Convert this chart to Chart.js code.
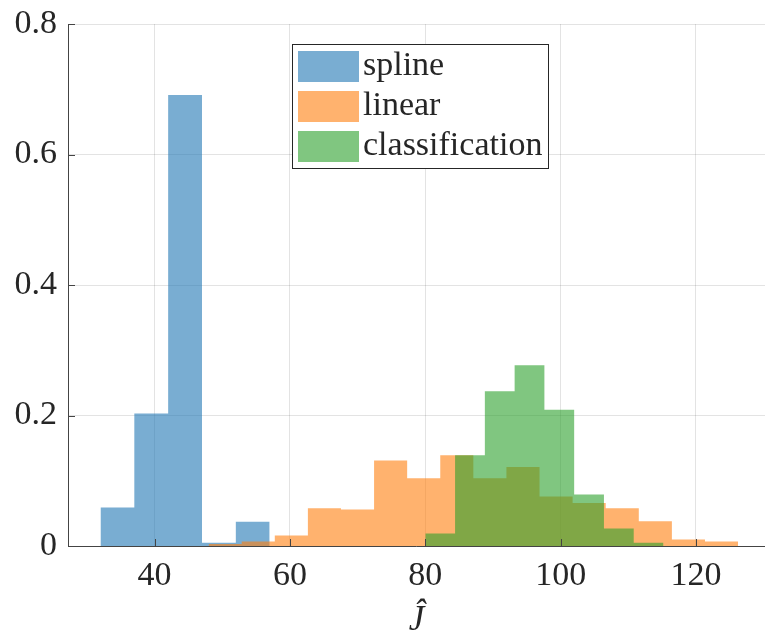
<!DOCTYPE html>
<html lang="en">
<head>
<meta charset="utf-8">
<title>Histogram of J hat</title>
<script src="https://cdn.jsdelivr.net/npm/chart.js@4.4.0/dist/chart.umd.min.js"></script>
<style>
  html, body { margin: 0; padding: 0; background: #fff; }
  #wrap { width: 765px; height: 642px; }
</style>
</head>
<body>
<div id="wrap"><canvas id="hist"></canvas></div>
<script>
const seriesNames = ['spline', 'linear', 'classification'];

// bin edges + normalised heights (each series has its own bin width)
const splineEdges = [32, 37, 42, 47, 52, 57];
const splineHeights = [0.059, 0.203, 0.691, 0.005, 0.037];

const linearEdges = [47.98, 52.87, 57.76, 62.65, 67.54, 72.43, 77.32, 82.21, 87.10, 91.99,
                     96.88, 101.77, 106.66, 111.55, 116.44, 121.33, 126.22];
const linearHeights = [0.003, 0.007, 0.016, 0.058, 0.056, 0.131, 0.104, 0.139, 0.104, 0.121,
                       0.076, 0.066, 0.058, 0.038, 0.010, 0.007];

const classEdges = [80.0, 84.4, 88.8, 93.2, 97.6, 102.0, 106.4, 110.8, 115.2];
const classHeights = [0.019, 0.139, 0.237, 0.277, 0.209, 0.079, 0.027, 0.005];

const xTicks = [40, 60, 80, 100, 120];
const yTicks = [0, 0.2, 0.4, 0.6, 0.8];

const colors = ['rgba(31,119,180,0.6)', 'rgba(255,127,14,0.6)', 'rgba(44,160,44,0.6)'];
const fontFamily = '"Liberation Serif", "DejaVu Serif", serif';
const textColor = '#262626';

// one point per left edge, plus a closing point at the last edge
function stepPoints(edges, heights) {
    const pts = heights.map((h, i) => ({x: edges[i], y: h}));
    pts.push({x: edges[edges.length - 1], y: 0});
    return pts;
}

function histDataset(i, edges, heights) {
    return {
        label: seriesNames[i],
        data: stepPoints(edges, heights),
        stepped: 'before',
        fill: 'origin',
        backgroundColor: colors[i],
        borderColor: 'transparent',
        borderWidth: 0,
        pointRadius: 0,
        order: 2 - i
    };
}

// MATLAB style: axis lines and inward ticks on top of the bars
const axesOnTop = {
    id: 'axesOnTop',
    afterDatasetsDraw(chart) {
        const {ctx, chartArea: a, scales: {x, y}} = chart;
        ctx.save();
        ctx.strokeStyle = '#444';
        ctx.lineWidth = 1;
        ctx.beginPath();
        ctx.moveTo(a.left + 0.5, a.top);
        ctx.lineTo(a.left + 0.5, a.bottom + 0.5);
        ctx.lineTo(a.right, a.bottom + 0.5);
        xTicks.forEach(v => {
            const px = Math.round(x.getPixelForValue(v)) + 0.5;
            ctx.moveTo(px, a.bottom);
            ctx.lineTo(px, a.bottom - 7);
        });
        yTicks.forEach(v => {
            const py = Math.round(y.getPixelForValue(v)) + 0.5;
            ctx.moveTo(a.left, py);
            ctx.lineTo(a.left + 7, py);
        });
        ctx.stroke();
        ctx.restore();
    }
};

const boxLegend = {
    id: 'boxLegend',
    afterDraw(chart) {
        const ctx = chart.ctx;
        const bx = 292, by = 44, bw = 256, bh = 124;
        ctx.save();
        ctx.fillStyle = '#fff';
        ctx.fillRect(bx, by, bw, bh);
        ctx.strokeStyle = '#262626';
        ctx.lineWidth = 1;
        ctx.strokeRect(bx + 0.5, by + 0.5, bw, bh);
        ctx.font = '34px ' + fontFamily;
        ctx.textBaseline = 'alphabetic';
        chart.data.datasets.forEach((ds, i) => {
            const top = by + 7 + i * 40;
            ctx.fillStyle = ds.backgroundColor;
            ctx.fillRect(bx + 6, top, 61, 31);
            ctx.fillStyle = textColor;
            ctx.fillText(ds.label, bx + 71, top + 24);
        });
        ctx.restore();
    }
};

new Chart('hist', {
    type: 'line',
    data: {
        datasets: [
            histDataset(0, splineEdges, splineHeights),
            histDataset(1, linearEdges, linearHeights),
            histDataset(2, classEdges, classHeights)
        ]
    },
    options: {
        responsive: true,
        maintainAspectRatio: false,
        animation: false,
        layout: {padding: {top: 24, right: 0, bottom: 0, left: 0}},
        plugins: {legend: {display: false}, tooltip: {enabled: false}},
        scales: {
            x: {
                type: 'linear',
                min: 27.2,
                max: 130.2,
                afterBuildTicks: s => { s.ticks = xTicks.map(v => ({value: v})); },
                afterFit: s => { s.height = 96; s.paddingLeft = 0; s.paddingRight = 0; },
                grid: {color: 'rgba(0,0,0,0.11)', drawTicks: false},
                border: {display: false},
                ticks: {padding: 10, color: textColor, font: {family: fontFamily, size: 34}},
                title: {
                    display: true,
                    text: 'Ĵ',
                    color: textColor,
                    padding: {top: 0, bottom: 0},
                    font: {family: fontFamily, size: 35, style: 'italic'}
                }
            },
            y: {
                min: 0,
                max: 0.8,
                afterBuildTicks: s => { s.ticks = yTicks.map(v => ({value: v})); },
                afterFit: s => { s.width = 68; s.paddingTop = 0; s.paddingBottom = 0; },
                grid: {color: 'rgba(0,0,0,0.11)', drawTicks: false},
                border: {display: false},
                ticks: {
                    padding: 11,
                    color: textColor,
                    font: {family: fontFamily, size: 34},
                    callback: v => v === 0 ? '0' : v.toFixed(1)
                }
            }
        }
    },
    plugins: [axesOnTop, boxLegend]
});
</script>
</body>
</html>
